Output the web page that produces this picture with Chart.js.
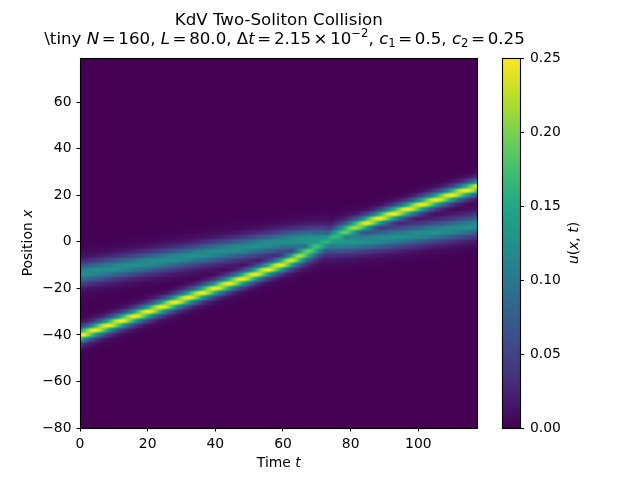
<!DOCTYPE html>
<html>
<head>
<meta charset="utf-8">
<script src="https://cdn.jsdelivr.net/npm/chart.js@4.4.1/dist/chart.umd.min.js"></script>
<style>
  html, body { margin: 0; padding: 0; background: #fff; }
  #wrap { position: relative; width: 640px; height: 480px; }
  #wrap canvas { position: absolute; left: 0; top: 0; }
</style>
</head>
<body>
<div id="wrap">
  <canvas id="field" width="640" height="480"></canvas>
  <canvas id="cbar" width="640" height="480"></canvas>
</div>
<script>
// Soliton tracks (time -> centre position, peak height, half width)
const trackTimes = [0, 10, 20, 30, 40, 50, 60, 64, 68, 72, 76, 80, 85, 90, 100, 110, 117.5];
const fastCenter = [-40.2, -35.1, -30.1, -25.0, -20.0, -14.9, -9.6, -7.0, -4.0, -0.6, 2.8, 5.6, 8.3, 10.8, 15.5, 20.2, 23.6];
const fastAmp    = [0.25, 0.25, 0.25, 0.25, 0.25, 0.25, 0.25, 0.23, 0.19, 0.16, 0.17, 0.21, 0.25, 0.25, 0.25, 0.25, 0.25];
const fastWidth  = [2.6, 2.6, 2.6, 2.6, 2.6, 2.6, 2.6, 2.9, 3.4, 3.8, 3.6, 3.0, 2.6, 2.6, 2.6, 2.6, 2.6];
const slowCenter = [-13.7, -11.4, -9.1, -6.8, -4.5, -2.2, 0.1, 0.6, 0.8, 0.5, 0.2, 0.1, 0.5, 1.3, 3.2, 5.3, 7.0];
const slowAmp    = [0.125, 0.125, 0.125, 0.125, 0.125, 0.125, 0.125, 0.13, 0.135, 0.14, 0.135, 0.13, 0.125, 0.125, 0.125, 0.125, 0.125];
const slowWidth  = [4.0, 4.0, 4.0, 4.0, 4.0, 4.0, 4.0, 4.2, 4.4, 4.6, 4.4, 4.2, 4.0, 4.0, 4.0, 4.0, 4.0];

// spatial sampling of the stored field
const gridX0 = -80, gridStep = 2, gridCount = 80;

const tRange = [0, 117.5];
const xRange = [-80, 79];
const timeTicks = [0, 20, 40, 60, 80, 100];
const posTicks = [-80, -60, -40, -20, 0, 20, 40, 60];
const cbarTicks = [0, 0.05, 0.10, 0.15, 0.20, 0.25];
const uMax = 0.25;

const FONT = '"DejaVu Sans", "Liberation Sans", sans-serif';

// viridis stops
const viridisStops = [
  [0.000, '#440154'], [0.100, '#482475'], [0.125, '#472d7b'], [0.200, '#414487'],
  [0.250, '#3b528b'], [0.300, '#355f8d'], [0.375, '#2c728e'], [0.400, '#2a788e'],
  [0.500, '#21918c'], [0.600, '#22a884'], [0.625, '#28ae80'], [0.700, '#44bf70'],
  [0.750, '#5ec962'], [0.800, '#7ad151'], [0.875, '#addc30'], [0.900, '#bddf26'],
  [1.000, '#fde725']
].map(([p, h]) => [p, parseInt(h.slice(1, 3), 16), parseInt(h.slice(3, 5), 16), parseInt(h.slice(5, 7), 16)]);

function viridis(n) {
  n = Math.max(0, Math.min(1, n));
  for (let i = 1; i < viridisStops.length; i++) {
    const b = viridisStops[i];
    if (n <= b[0]) {
      const a = viridisStops[i - 1];
      const f = (n - a[0]) / (b[0] - a[0]);
      return [a[1] + (b[1] - a[1]) * f, a[2] + (b[2] - a[2]) * f, a[3] + (b[3] - a[3]) * f];
    }
  }
  const l = viridisStops[viridisStops.length - 1];
  return [l[1], l[2], l[3]];
}

function keyAt(vals, t) {
  if (t <= trackTimes[0]) return vals[0];
  for (let i = 1; i < trackTimes.length; i++) {
    if (t <= trackTimes[i]) {
      const f = (t - trackTimes[i - 1]) / (trackTimes[i] - trackTimes[i - 1]);
      return vals[i - 1] + (vals[i] - vals[i - 1]) * f;
    }
  }
  return vals[vals.length - 1];
}

function sech2(z) { const c = Math.cosh(z); return 1 / (c * c); }

// field values on the spatial grid at time t
function columnAt(t) {
  const cf = keyAt(fastCenter, t), af = keyAt(fastAmp, t), wf = keyAt(fastWidth, t);
  const cs = keyAt(slowCenter, t), as = keyAt(slowAmp, t), ws = keyAt(slowWidth, t);
  const col = new Float32Array(gridCount);
  for (let g = 0; g < gridCount; g++) {
    const xg = gridX0 + g * gridStep;
    col[g] = Math.max(af * sech2((xg - cf) / wf), as * sech2((xg - cs) / ws));
  }
  return col;
}

// smooth (cosine) interpolation between grid rows
function sampleColumn(col, pos) {
  let f = (pos - gridX0) / gridStep;
  if (f <= 0) return col[0];
  if (f >= gridCount - 1) return col[gridCount - 1];
  const j = Math.floor(f);
  f = (1 - Math.cos((f - j) * Math.PI)) / 2;
  return col[j] * (1 - f) + col[j + 1] * f;
}

// text with italic / sub / sup pieces, plus fixed gaps
function drawRich(ctx, segs, cx, base, size, angle) {
  ctx.save();
  ctx.translate(cx, base);
  if (angle) ctx.rotate(angle);
  ctx.fillStyle = '#000';
  ctx.textBaseline = 'alphabetic';
  ctx.textAlign = 'left';
  const parts = segs.map(([txt, st]) => {
    if (st === 'gap') return { txt: '', font: '', dy: 0, w: txt };
    const small = st === 'sub' || st === 'sup';
    const sz = small ? size * 0.7 : size;
    const font = (st === 'i' ? 'italic ' : '') + sz + 'px ' + FONT;
    ctx.font = font;
    const dy = st === 'sup' ? -size * 0.42 : (st === 'sub' ? size * 0.15 : 0);
    return { txt, font, dy, w: ctx.measureText(txt).width };
  });
  const total = parts.reduce((s, p) => s + p.w, 0);
  let x = -total / 2;
  parts.forEach(p => {
    if (p.txt) {
      ctx.font = p.font;
      ctx.fillText(p.txt, x, p.dy);
    }
    x += p.w;
  });
  ctx.restore();
}

const fmtTick = v => String(v).replace('-', '\u2212');

const axisGrid = { display: true, drawOnChartArea: false, drawTicks: true, tickLength: 3.5, color: '#000', lineWidth: 1 };
const tickFont = { family: FONT, size: 13.9 };
const G = [2.6, 'gap']; // spacing around relations in math text

const heatmap = {
  id: 'heatmap',
  beforeDatasetsDraw(chart) {
    const { ctx, chartArea: a, scales: { x, y } } = chart;
    const left = Math.round(a.left), top = Math.round(a.top);
    const w = Math.round(a.right) - left, h = Math.round(a.bottom) - top;
    const img = ctx.createImageData(w, h);
    for (let i = 0; i < w; i++) {
      const col = columnAt(x.getValueForPixel(left + i + 0.5));
      for (let j = 0; j < h; j++) {
        const v = sampleColumn(col, y.getValueForPixel(top + j + 0.5));
        const c = viridis(v / uMax);
        const k = (j * w + i) * 4;
        img.data[k] = c[0]; img.data[k + 1] = c[1]; img.data[k + 2] = c[2]; img.data[k + 3] = 255;
      }
    }
    ctx.putImageData(img, left, top);
  },
  afterDraw(chart) {
    const { ctx, chartArea: a } = chart;
    ctx.save();
    ctx.strokeStyle = '#000';
    ctx.lineWidth = 1.1;
    ctx.strokeRect(Math.floor(a.left) + 0.5, Math.floor(a.top) + 0.5,
      Math.floor(a.right) - Math.floor(a.left), Math.floor(a.bottom) - Math.floor(a.top));
    ctx.restore();

    // title
    drawRich(ctx, [['KdV Two-Soliton Collision', '']], 278.75, 25, 16.67);
    drawRich(ctx, [
      ['\\tiny ', ''], ['N', 'i'], G, ['=', ''], G, ['160, ', ''],
      ['L', 'i'], G, ['=', ''], G, ['80.0, ', ''],
      ['\u0394', ''], ['t', 'i'], G, ['=', ''], G, ['2.15', ''], G, ['\u00d7', ''], G, ['10', ''], ['\u22122', 'sup'], [', ', ''],
      ['c', 'i'], ['1', 'sub'], G, ['=', ''], G, ['0.5, ', ''],
      ['c', 'i'], ['2', 'sub'], G, ['=', ''], G, ['0.25', '']
    ], 284.5, 44, 16.67);

    // axis titles
    drawRich(ctx, [['Time ', ''], ['t', 'i']], (a.left + a.right) / 2, 467, 13.9);
    drawRich(ctx, [['Position ', ''], ['x', 'i']], 31.7, (a.top + a.bottom) / 2, 13.9, -Math.PI / 2);
  }
};

new Chart(document.getElementById('field'), {
  type: 'scatter',
  data: { datasets: [] },
  options: {
    responsive: false,
    animation: false,
    devicePixelRatio: 1,
    layout: { padding: { left: 0, top: 58, right: 162.5, bottom: 0 } },
    plugins: { legend: { display: false }, title: { display: false }, tooltip: { enabled: false } },
    scales: {
      x: {
        type: 'linear', min: tRange[0], max: tRange[1],
        afterFit: s => { s.height = 52; },
        afterBuildTicks: s => { s.ticks = timeTicks.map(v => ({ value: v })); },
        grid: axisGrid,
        border: { display: false },
        ticks: { color: '#000', font: tickFont, padding: 5, maxRotation: 0, autoSkip: false, callback: fmtTick }
      },
      y: {
        type: 'linear', min: xRange[0], max: xRange[1],
        afterFit: s => { s.width = 80; },
        afterBuildTicks: s => { s.ticks = posTicks.map(v => ({ value: v })); },
        grid: axisGrid,
        border: { display: false },
        ticks: { color: '#000', font: tickFont, padding: 5, autoSkip: false, callback: fmtTick }
      }
    }
  },
  plugins: [heatmap]
});

const colorbar = {
  id: 'colorbar',
  beforeDatasetsDraw(chart) {
    const { ctx, chartArea: a, scales: { y } } = chart;
    const top = Math.round(a.top), bottom = Math.round(a.bottom);
    for (let py = top; py < bottom; py++) {
      const c = viridis(y.getValueForPixel(py + 0.5) / uMax);
      ctx.fillStyle = `rgb(${c[0] | 0},${c[1] | 0},${c[2] | 0})`;
      ctx.fillRect(a.left, py, a.right - a.left, 1);
    }
  },
  afterDraw(chart) {
    const { ctx, chartArea: a } = chart;
    ctx.save();
    ctx.strokeStyle = '#000';
    ctx.lineWidth = 1.1;
    ctx.strokeRect(Math.floor(a.left) + 0.5, Math.floor(a.top) + 0.5,
      Math.floor(a.right) - Math.floor(a.left), Math.floor(a.bottom) - Math.floor(a.top));
    ctx.restore();
    drawRich(ctx, [['u', 'i'], ['(', ''], ['x', 'i'], [', ', ''], ['t', 'i'], [')', '']],
      578.3, (a.top + a.bottom) / 2, 13.9, -Math.PI / 2);
  }
};

new Chart(document.getElementById('cbar'), {
  type: 'scatter',
  data: { datasets: [] },
  options: {
    responsive: false,
    animation: false,
    devicePixelRatio: 1,
    layout: { padding: { left: 502, top: 58, right: 0, bottom: 52 } },
    plugins: { legend: { display: false }, title: { display: false }, tooltip: { enabled: false } },
    scales: {
      x: { type: 'linear', display: false, min: 0, max: 1 },
      y: {
        type: 'linear', position: 'right', min: 0, max: uMax,
        afterFit: s => { s.width = 640 - 520.5; },
        afterBuildTicks: s => { s.ticks = cbarTicks.map(v => ({ value: v })); },
        grid: axisGrid,
        border: { display: false },
        ticks: { color: '#000', font: tickFont, padding: 6, autoSkip: false, callback: v => v.toFixed(2) }
      }
    }
  },
  plugins: [colorbar]
});
</script>
</body>
</html>
